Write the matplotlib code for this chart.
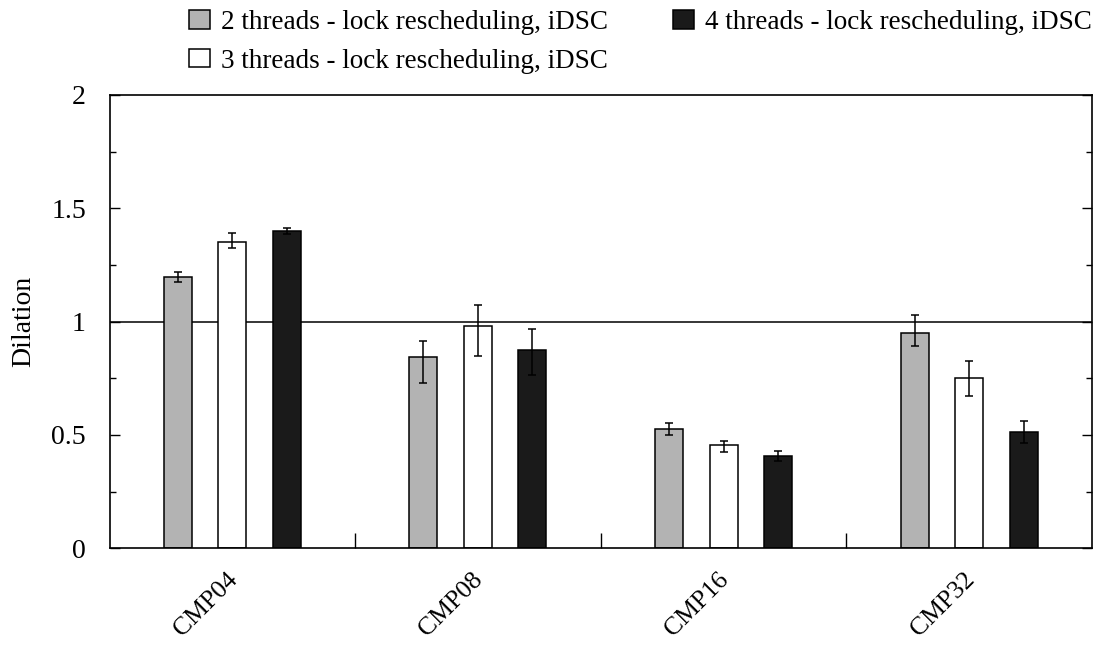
import matplotlib
matplotlib.use("Agg")
import matplotlib.pyplot as plt
from matplotlib.patches import Patch
from matplotlib.transforms import ScaledTranslation
import numpy as np

# Benchmarks
categories = ["CMP04", "CMP08", "CMP16", "CMP32"]

# Dilation per thread count: value, lower and upper error bound
two = [1.197, 0.846, 0.526, 0.951]
two_lo = [1.174, 0.731, 0.500, 0.894]
two_hi = [1.220, 0.916, 0.552, 1.030]

three = [1.353, 0.982, 0.457, 0.752]
three_lo = [1.327, 0.849, 0.425, 0.671]
three_hi = [1.391, 1.074, 0.475, 0.828]

four = [1.402, 0.875, 0.409, 0.513]
four_lo = [1.387, 0.765, 0.385, 0.463]
four_hi = [1.415, 0.966, 0.430, 0.562]

y_ticks = [0, 0.5, 1, 1.5, 2]
y_ticklabels = ["0", "0.5", "1", "1.5", "2"]
y_minor = [0.25, 0.75, 1.25, 1.75]

labels = ["2 threads - lock rescheduling, iDSC",
          "3 threads - lock rescheduling, iDSC",
          "4 threads - lock rescheduling, iDSC"]
colors = ["#b3b3b3", "#ffffff", "#1a1a1a"]

plt.rcParams["font.family"] = ["Liberation Serif", "DejaVu Serif"]
FS = 20
LEG_FS = 19.5
XL_FS = 18.5

fig = plt.figure(figsize=(11.01, 6.48), dpi=100)
ax = fig.add_axes([109.5 / 1101, 1 - 548.3 / 648, (1092 - 109.5) / 1101, (548.3 - 95) / 648])

x = np.arange(len(categories))
offset = 0.222
width = 0.114
series = [(two, two_lo, two_hi), (three, three_lo, three_hi), (four, four_lo, four_hi)]
for i, (vals, lo, hi) in enumerate(series):
    vals = np.array(vals)
    err = np.vstack([vals - np.array(lo), np.array(hi) - vals])
    xs = x + (i - 1) * offset
    ax.bar(xs, vals, width=width, color=colors[i], edgecolor="black", linewidth=1.1, zorder=2)
    ax.errorbar(xs, vals, yerr=err, fmt="none", ecolor="black", elinewidth=1.1,
                capsize=3.2, capthick=1.1, zorder=3)

ax.axhline(1.0, color="black", linewidth=1.1, zorder=1)

ax.set_xlim(-0.5, 3.5)
ax.set_ylim(0, 2)

# y axis: major every 0.5, minor every 0.25, ticks inward on both sides
ax.set_yticks(y_ticks)
ax.set_yticklabels(y_ticklabels)
ax.set_yticks(y_minor, minor=True)
ax.tick_params(axis="y", which="major", direction="in", length=7.5, width=1.0,
               left=True, right=True, labelsize=FS, pad=17)
ax.tick_params(axis="y", which="minor", direction="in", length=4.5, width=1.0,
               left=True, right=True)

# x axis: separators between groups
ax.set_xticks([0.5, 1.5, 2.5])
ax.set_xticklabels([])
ax.tick_params(axis="x", which="major", direction="in", length=11, width=1.0,
               bottom=True, top=False)

# group names, rotated, ending just below each group centre
name_tr = ax.get_xaxis_transform() + ScaledTranslation(-0.06, -0.20, fig.dpi_scale_trans)
for xi, name in zip(x, categories):
    ax.text(xi, 0, name, transform=name_tr, rotation=45, ha="right", va="top",
            rotation_mode="anchor", fontsize=XL_FS)

for s in ax.spines.values():
    s.set_linewidth(1.2)

ax.set_ylabel("Dilation", fontsize=FS, labelpad=11)

handles = [Patch(facecolor=c, edgecolor="black", linewidth=1.1) for c in colors]
fig.legend(handles, labels, loc="upper left", ncol=2, frameon=False,
           bbox_to_anchor=(189 / 1101, 1 - 10 / 648), fontsize=LEG_FS,
           handlelength=0.78, handleheight=0.66, handletextpad=0.4,
           labelspacing=0.5, columnspacing=2.4, borderpad=0, borderaxespad=0)

fig.savefig("out.png", dpi=100)
